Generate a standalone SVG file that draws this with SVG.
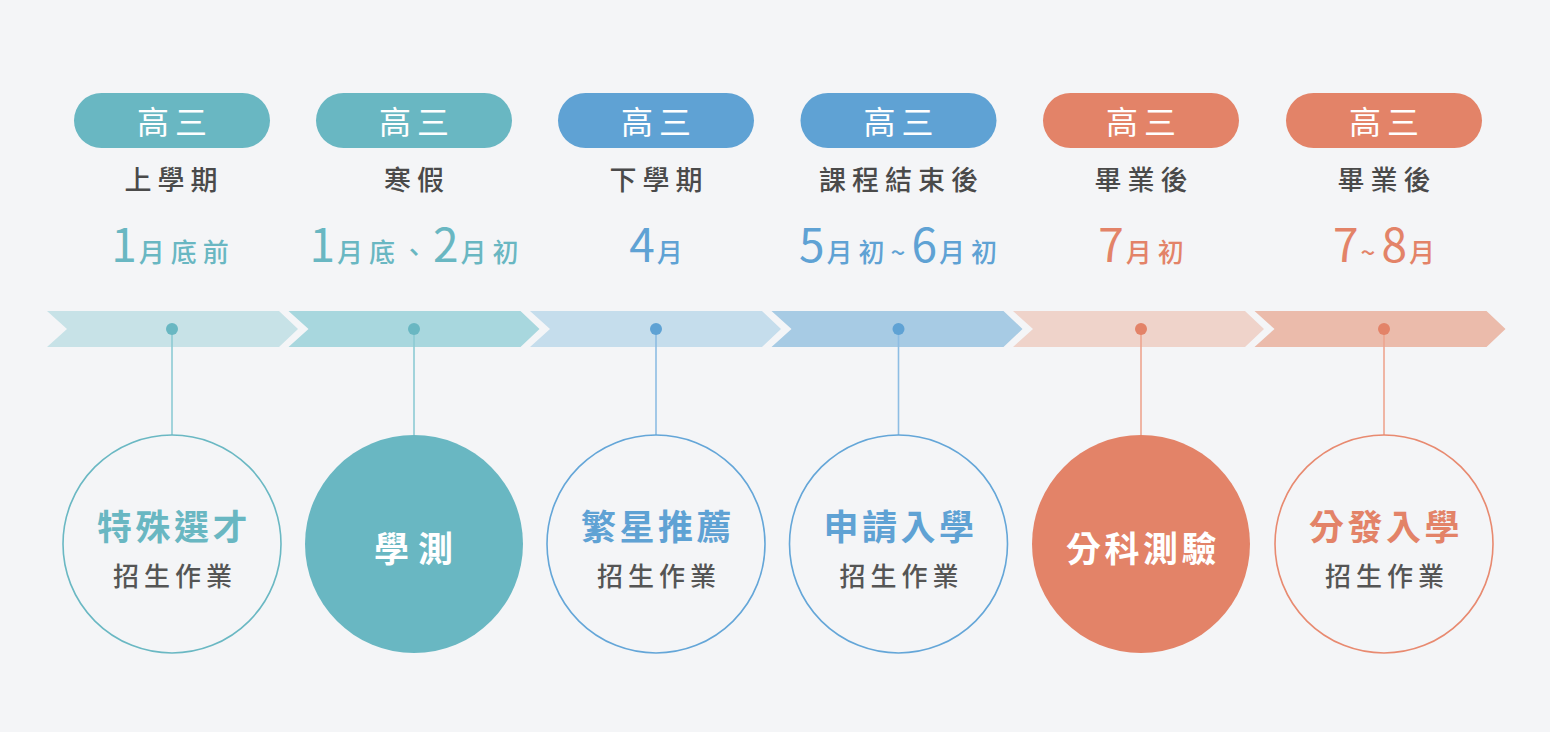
<svg xmlns="http://www.w3.org/2000/svg" width="1550" height="732" viewBox="0 0 1550 732">
<style>
text{font-family:"Noto Sans CJK TC","Noto Sans CJK SC",sans-serif;text-anchor:middle}
.pill-t{font-size:32px;fill:#fff;letter-spacing:6px;font-weight:400}
.sub{font-size:27px;fill:#4a4a4a;letter-spacing:6px;font-weight:500}
.date{font-weight:500;letter-spacing:6px}
.big{font-size:46px;letter-spacing:2px;font-weight:400}
.sm{font-size:26px}
.ttl{font-size:35px;font-weight:700;letter-spacing:3.5px}
.job{font-size:26px;fill:#555;letter-spacing:5px;font-weight:500}
.teal{fill:#69b7c2}.blue{fill:#5fa2d4}.orange{fill:#e38368}
.ring{fill:#f4f5f7;stroke-width:1.6}
.conn line{stroke-width:1.6}
</style>
<rect width="1550" height="732" fill="#f4f5f7"/>
<g id="band">
<path d="M47,311H279L298,329L279,347H47L67,329Z" fill="#c7e2e7"/>
<path d="M288.5,311H520.5L539.5,329L520.5,347H288.5L308.5,329Z" fill="#a8d7de"/>
<path d="M530,311H762L781,329L762,347H530L550,329Z" fill="#c5ddec"/>
<path d="M771.5,311H1003.5L1022.5,329L1003.5,347H771.5L791.5,329Z" fill="#a7cbe4"/>
<path d="M1013,311H1245L1264,329L1245,347H1013L1033,329Z" fill="#efd3ca"/>
<path d="M1254.5,311H1486.5L1505.5,329L1486.5,347H1254.5L1274.5,329Z" fill="#ebbbab"/>
</g>
<g id="connectors" class="conn">
<line x1="172" y1="329" x2="172" y2="436" stroke="#8ccbd4"/>
<line x1="414" y1="329" x2="414" y2="436" stroke="#8ccbd4"/>
<line x1="656" y1="329" x2="656" y2="436" stroke="#8dbde3"/>
<line x1="898.5" y1="329" x2="898.5" y2="436" stroke="#8dbde3"/>
<line x1="1141" y1="329" x2="1141" y2="436" stroke="#eea58f"/>
<line x1="1384" y1="329" x2="1384" y2="436" stroke="#eea58f"/>
<circle cx="172" cy="329" r="6" fill="#69b7c2"/>
<circle cx="414" cy="329" r="6" fill="#69b7c2"/>
<circle cx="656" cy="329" r="6" fill="#5fa2d4"/>
<circle cx="898.5" cy="329" r="6" fill="#5fa2d4"/>
<circle cx="1141" cy="329" r="6" fill="#e38368"/>
<circle cx="1384" cy="329" r="6" fill="#e38368"/>
</g>
<g id="col1">
<rect x="74" y="93" width="196" height="55" rx="27.5" fill="#69b7c2"/>
<text x="175" y="134" class="pill-t">高三</text>
<text x="174" y="190" class="sub">上學期</text>
<text x="173" y="262" class="date teal"><tspan class="big">1</tspan><tspan class="sm">月底前</tspan></text>
</g>
<g id="col2">
<rect x="316" y="93" width="196" height="55" rx="27.5" fill="#69b7c2"/>
<text x="417" y="134" class="pill-t">高三</text>
<text x="417" y="190" class="sub">寒假</text>
<text x="417" y="262" class="date teal"><tspan class="big">1</tspan><tspan class="sm">月底、</tspan><tspan class="big">2</tspan><tspan class="sm">月初</tspan></text>
</g>
<g id="col3">
<rect x="558" y="93" width="196" height="55" rx="27.5" fill="#5fa2d4"/>
<text x="659" y="134" class="pill-t">高三</text>
<text x="659" y="190" class="sub">下學期</text>
<text x="659" y="262" class="date blue"><tspan class="big">4</tspan><tspan class="sm">月</tspan></text>
</g>
<g id="col4">
<rect x="800.5" y="93" width="196" height="55" rx="27.5" fill="#5fa2d4"/>
<text x="901.5" y="134" class="pill-t">高三</text>
<text x="901.5" y="190" class="sub">課程結束後</text>
<text x="901" y="262" class="date blue"><tspan class="big">5</tspan><tspan class="sm">月初</tspan><tspan class="sm">~</tspan><tspan class="big">6</tspan><tspan class="sm">月初</tspan></text>
</g>
<g id="col5">
<rect x="1043" y="93" width="196" height="55" rx="27.5" fill="#e38368"/>
<text x="1144" y="134" class="pill-t">高三</text>
<text x="1144" y="190" class="sub">畢業後</text>
<text x="1144" y="262" class="date orange"><tspan class="big">7</tspan><tspan class="sm">月初</tspan></text>
</g>
<g id="col6">
<rect x="1286" y="93" width="196" height="55" rx="27.5" fill="#e38368"/>
<text x="1387" y="134" class="pill-t">高三</text>
<text x="1387" y="190" class="sub">畢業後</text>
<text x="1387" y="262" class="date orange"><tspan class="big">7</tspan><tspan class="sm">~</tspan><tspan class="big">8</tspan><tspan class="sm">月</tspan></text>
</g>
<g id="node1">
<circle cx="172" cy="544" r="109" class="ring" stroke="#6ab8c3"/>
<text x="174" y="540" class="ttl teal">特殊選才</text>
<text x="175" y="586" class="job">招生作業</text>
</g>
<g id="node2">
<circle cx="414" cy="544" r="109" fill="#69b7c2"/>
<text x="418" y="562" class="ttl" fill="#fff" style="letter-spacing:9px">學測</text>
</g>
<g id="node3">
<circle cx="656" cy="544" r="109" class="ring" stroke="#64a6d8"/>
<text x="658" y="540" class="ttl blue">繁星推薦</text>
<text x="659" y="586" class="job">招生作業</text>
</g>
<g id="node4">
<circle cx="898.5" cy="544" r="109" class="ring" stroke="#64a6d8"/>
<text x="900.5" y="540" class="ttl blue">申請入學</text>
<text x="901.5" y="586" class="job">招生作業</text>
</g>
<g id="node5">
<circle cx="1141" cy="544" r="109" fill="#e38368"/>
<text x="1143" y="562" class="ttl" fill="#fff">分科測驗</text>
</g>
<g id="node6">
<circle cx="1384" cy="544" r="109" class="ring" stroke="#e88a70"/>
<text x="1386" y="540" class="ttl orange">分發入學</text>
<text x="1387" y="586" class="job">招生作業</text>
</g>
</svg>
